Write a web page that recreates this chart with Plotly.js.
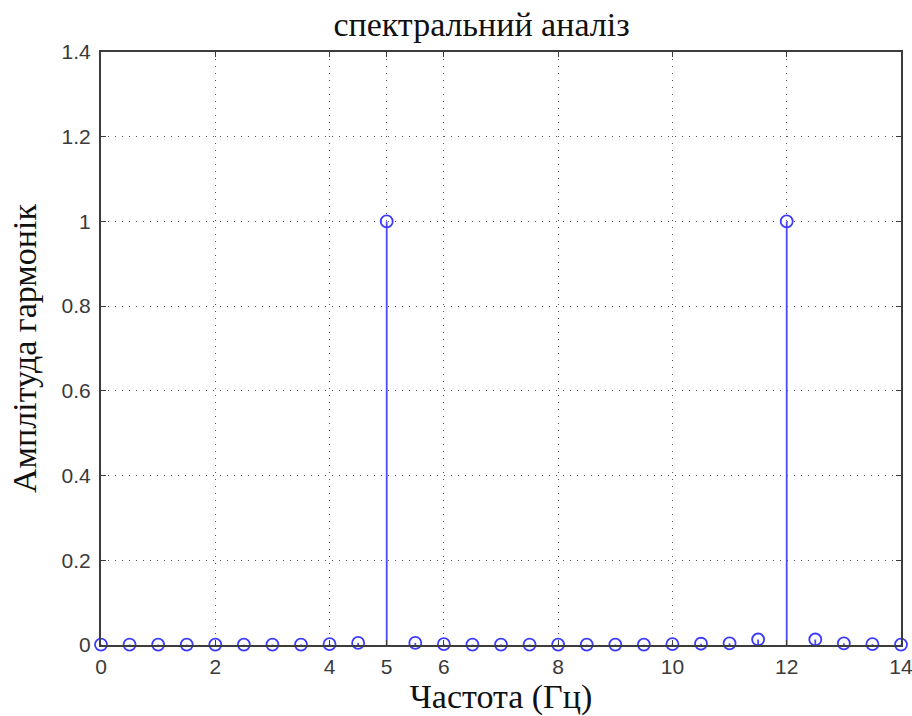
<!DOCTYPE html>
<html>
<head>
<meta charset="utf-8">
<script src="https://cdn.plot.ly/plotly-3.0.1.min.js"></script>
<style>html,body{margin:0;padding:0;background:#fff;}</style>
</head>
<body>
<div id="chart" style="width:912px;height:716px;"></div>
<script>
// Frequencies (Hz)
var freq = [0,0.5,1,1.5,2,2.5,3,3.5,4,4.5,5,5.5,6,6.5,7,7.5,8,8.5,9,9.5,10,10.5,11,11.5,12,12.5,13,13.5,14];
// Harmonic amplitudes
var amp = [0.001,0.001,0.001,0.001,0.001,0.001,0.001,0.001,0.002,0.005,1.0,0.005,0.002,0.001,0.001,0.001,0.001,0.001,0.001,0.001,0.002,0.003,0.004,0.013,1.0,0.013,0.004,0.002,0.001];
var xTicks = [0,2,4,5,6,8,10,12,14];
var yTicks = [0,0.2,0.4,0.6,0.8,1,1.2,1.4];
var zeros = amp.map(function(){return 0;});

var trace = {
  x: freq, y: amp, type: 'scatter', mode: 'markers',
  marker: {symbol: 'circle-open', size: 12, color: '#3a3aff', line: {width: 1.8, color: '#3a3aff'}},
  error_y: {type: 'data', symmetric: false, array: zeros, arrayminus: amp, width: 0, thickness: 1.8, color: '#4a4aff'},
  cliponaxis: false, hoverinfo: 'none'
};

var axisCommon = {
  showline: true, mirror: 'ticks', linecolor: '#3c3c3c', linewidth: 2,
  ticks: 'inside', ticklen: 5, tickcolor: '#3c3c3c', tickwidth: 1,
  showgrid: true, gridcolor: '#555', gridwidth: 1, griddash: '1px,6px',
  zeroline: false, ticklabeloverflow: 'allow',
  tickfont: {family: 'Liberation Sans, Arial, sans-serif', size: 21, color: '#3a3a3a'}
};

var serif = 'Liberation Serif, Times New Roman, serif';
var layout = {
  width: 912, height: 716,
  margin: {l: 101, r: 11, t: 52, b: 71},
  paper_bgcolor: '#fff', plot_bgcolor: '#fff',
  showlegend: false,
  title: {text: 'спектральний аналіз', x: 0.528, xanchor: 'center', y: 0.967, yanchor: 'middle',
          font: {family: serif, size: 34, color: '#111'}},
  xaxis: Object.assign({}, axisCommon, {
    range: [0, 14], tickmode: 'array', tickvals: xTicks, ticktext: xTicks.map(String),
    ticklabelstandoff: 2,
    title: {text: 'Частота (Гц)', standoff: 0, font: {family: serif, size: 34, color: '#111'}}
  }),
  yaxis: Object.assign({}, axisCommon, {
    range: [0, 1.4], tickmode: 'array', tickvals: yTicks, ticktext: yTicks.map(String),
    ticklabelstandoff: 4,
    title: {text: 'Амплітуда гармонік', standoff: 15, font: {family: serif, size: 34, color: '#111'}}
  })
};

Plotly.newPlot('chart', [trace], layout, {staticPlot: true, displayModeBar: false});
</script>
</body>
</html>
